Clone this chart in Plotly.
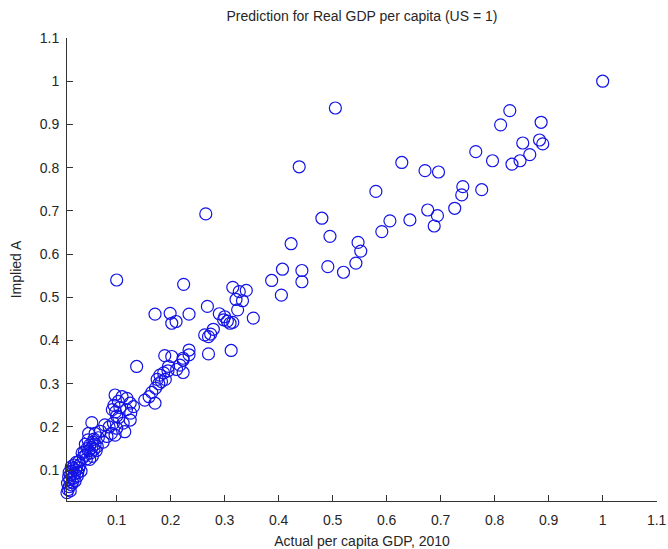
import plotly.graph_objects as go

# Actual per capita GDP 2010 (US=1) vs implied A
actual_gdp = [
    1.000, 0.505, 0.828, 0.811, 0.886, 0.852, 0.883, 0.889, 0.865, 0.847, 0.832,
    0.796, 0.765, 0.628, 0.671, 0.696, 0.438, 0.741, 0.739, 0.776, 0.726, 0.676,
    0.694, 0.688, 0.643, 0.606, 0.591, 0.580, 0.480, 0.265,
    0.423, 0.495, 0.547, 0.552, 0.407, 0.443, 0.443, 0.387, 0.405, 0.491, 0.520,
    0.543, 0.100, 0.224, 0.315, 0.327, 0.340, 0.321, 0.333, 0.324, 0.353, 0.268,
    0.290, 0.300, 0.305, 0.310, 0.315, 0.298,
    0.171, 0.199, 0.202, 0.210, 0.234, 0.279, 0.263, 0.270, 0.274, 0.270, 0.312,
    0.234, 0.234, 0.223, 0.189, 0.202, 0.137,
    0.196, 0.211, 0.223, 0.217, 0.223,
    0.152, 0.160, 0.171, 0.165, 0.172, 0.178, 0.175, 0.183, 0.180, 0.187, 0.190, 0.195,
    0.048, 0.054, 0.060, 0.066, 0.070, 0.075, 0.082, 0.086, 0.090, 0.078, 0.094,
    0.100, 0.097, 0.115, 0.112, 0.125, 0.104, 0.098, 0.106, 0.095, 0.118, 0.126,
    0.097, 0.103, 0.119, 0.125, 0.131, 0.110, 0.100, 0.092,
    0.038, 0.040, 0.043, 0.045, 0.048, 0.050, 0.052, 0.054, 0.056, 0.058, 0.060,
    0.047, 0.044, 0.062, 0.055, 0.036, 0.050, 0.042, 0.058, 0.064,
    0.008, 0.010, 0.012, 0.009, 0.014, 0.016, 0.013, 0.018, 0.011, 0.015, 0.020,
    0.017, 0.022, 0.019, 0.024, 0.021, 0.026, 0.028, 0.025, 0.030, 0.027, 0.032,
    0.016, 0.023, 0.030, 0.034, 0.012,
]
implied_a = [
    1.000, 0.938, 0.932, 0.899, 0.905, 0.857, 0.864, 0.855, 0.830, 0.816, 0.808,
    0.816, 0.837, 0.812, 0.793, 0.790, 0.802, 0.756, 0.737, 0.749, 0.706, 0.702,
    0.689, 0.665, 0.679, 0.677, 0.652, 0.745, 0.683, 0.693,
    0.624, 0.641, 0.627, 0.607, 0.565, 0.562, 0.536, 0.539, 0.505, 0.571, 0.558,
    0.579, 0.540, 0.530, 0.523, 0.513, 0.516, 0.495, 0.492, 0.471, 0.452, 0.479,
    0.462, 0.455, 0.445, 0.440, 0.442, 0.448,
    0.461, 0.463, 0.440, 0.444, 0.461, 0.426, 0.413, 0.409, 0.415, 0.369, 0.377,
    0.378, 0.367, 0.359, 0.365, 0.363, 0.340,
    0.340, 0.333, 0.326, 0.343, 0.355,
    0.262, 0.270, 0.255, 0.280, 0.290, 0.300, 0.310, 0.305, 0.320, 0.325, 0.310, 0.330,
    0.185, 0.210, 0.185, 0.175, 0.190, 0.165, 0.178, 0.200, 0.185, 0.205, 0.209,
    0.197, 0.181, 0.189, 0.209, 0.216, 0.222, 0.235, 0.245, 0.250, 0.240, 0.232,
    0.274, 0.259, 0.266, 0.255, 0.247, 0.270, 0.225, 0.240,
    0.130, 0.142, 0.135, 0.150, 0.145, 0.158, 0.140, 0.152, 0.165, 0.148, 0.160,
    0.170, 0.126, 0.145, 0.132, 0.140, 0.125, 0.160, 0.172, 0.155,
    0.048, 0.055, 0.062, 0.070, 0.052, 0.066, 0.078, 0.072, 0.085, 0.090, 0.082,
    0.098, 0.092, 0.105, 0.100, 0.112, 0.108, 0.095, 0.118, 0.105, 0.086, 0.112,
    0.108, 0.075, 0.120, 0.098, 0.095,
]

x_ticks = [0.1, 0.2, 0.3, 0.4, 0.5, 0.6, 0.7, 0.8, 0.9, 1.0, 1.1]
x_tick_labels = ["0.1", "0.2", "0.3", "0.4", "0.5", "0.6", "0.7", "0.8", "0.9", "1", "1.1"]
y_ticks = [0.1, 0.2, 0.3, 0.4, 0.5, 0.6, 0.7, 0.8, 0.9, 1.0, 1.1]
y_tick_labels = ["0.1", "0.2", "0.3", "0.4", "0.5", "0.6", "0.7", "0.8", "0.9", "1", "1.1"]

font_family = "Liberation Sans, Arial, sans-serif"
text_color = "#262626"

fig = go.Figure()
fig.add_trace(go.Scatter(
    x=actual_gdp, y=implied_a, mode="markers",
    marker=dict(symbol="circle-open", size=12, color="#1414e6",
                line=dict(width=1.2, color="#1414e6")),
    cliponaxis=False, showlegend=False,
))

axis_common = dict(
    showline=True, linecolor="#333333", linewidth=1, mirror=False,
    ticks="inside", ticklen=6, tickcolor="#333333", tickwidth=1,
    showgrid=False, zeroline=False, automargin=False,
    tickfont=dict(family=font_family, size=14, color=text_color),
)

fig.update_layout(
    width=668, height=549,
    margin=dict(l=67, r=11, t=38, b=48),
    paper_bgcolor="white", plot_bgcolor="white",
    title=dict(text="Prediction for Real GDP per capita (US = 1)",
               x=(67 + 657) / 2 / 668, xanchor="center", y=1 - 16 / 549, yanchor="middle",
               font=dict(family=font_family, size=14, color=text_color)),
    xaxis=dict(range=[0.008, 1.1006], tickvals=x_ticks, ticktext=x_tick_labels,
               ticklabelstandoff=6,
               title=dict(text="Actual per capita GDP, 2010", standoff=12,
                          font=dict(family=font_family, size=14, color=text_color)),
               **axis_common),
    yaxis=dict(range=[0.0287, 1.1], tickvals=y_ticks, ticktext=y_tick_labels,
               ticklabelstandoff=4,
               title=dict(text="Implied A", standoff=14,
                          font=dict(family=font_family, size=14, color=text_color)),
               **axis_common),
)

fig.write_html("out.html", config={"displayModeBar": False},
               post_script="document.body.style.margin='0';document.body.style.overflow='hidden';")
